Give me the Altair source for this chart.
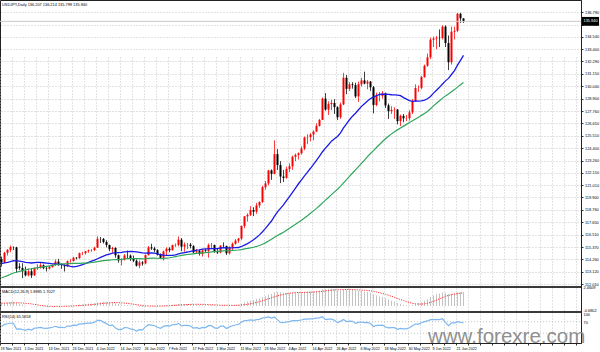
import json
import altair as alt
import pandas as pd

# ---------------- data ----------------
# closes before the first visible bar (used only to seed the moving averages)
pre_close = [110.00, 109.70, 109.36, 109.71, 109.93, 109.40, 109.22, 109.78, 110.30, 110.73,
             110.98, 111.49, 111.98, 111.29,
             111.05, 110.93, 111.44, 111.40, 111.65, 112.22, 113.27, 113.60, 113.28, 113.68,
             114.22, 114.33, 114.39, 114.35, 114.01, 113.46, 113.70, 114.15, 113.83, 113.60, 113.95,
             114.01, 113.96, 114.06, 113.77, 113.41, 112.89, 112.89, 113.91, 114.06, 113.90,
             114.15, 114.83, 114.11, 114.27]

opens = [114.28, 114.00, 114.85, 115.12, 115.37, 115.35, 113.60, 113.47, 113.17, 112.80,
         113.17, 112.80, 113.45, 113.55, 113.72, 113.45, 113.42, 113.56, 113.73, 114.05,
         113.71, 113.68, 113.62, 114.10, 114.10, 114.41, 114.36, 114.82, 114.83, 115.00,
         115.07, 115.10, 115.32, 116.12, 116.11, 115.84, 115.56, 115.19, 115.30, 114.63,
         114.17, 114.20, 114.61, 114.60, 114.30, 114.13, 113.68, 113.98, 113.88, 114.64,
         115.35, 115.25, 115.09, 114.69, 114.40, 114.98, 115.23, 115.09, 115.55, 115.57,
         116.05, 115.42, 115.60, 115.60, 115.46, 114.90, 115.01, 114.75, 115.07, 115.01,
         115.55, 115.56, 114.99, 114.88, 115.50, 115.48, 114.81, 115.31, 115.68, 115.96,
         116.15, 117.29, 118.17, 118.31, 118.75, 118.60, 119.17, 119.48, 120.83, 121.17,
         122.36, 122.04, 123.84, 122.85, 121.80, 121.68, 122.50, 122.73, 123.60, 123.77,
         123.92, 124.34, 125.36, 125.39, 125.63, 125.90, 126.42, 126.96, 128.90, 127.90,
         128.40, 128.50, 128.12, 127.20, 128.37, 130.80, 129.79, 130.20, 130.13, 129.10,
         130.21, 130.56, 130.27, 130.45, 129.93, 128.32, 129.16, 129.16, 129.37, 128.28,
         127.75, 127.87, 127.90, 126.85, 127.33, 127.10, 127.12, 127.64, 128.70, 129.87,
         129.88, 130.86, 131.89, 132.66, 134.27, 134.38, 134.44, 134.41, 135.46, 133.96,
         132.21, 135.00, 135.08, 136.63, 136.207]

highs = [114.50, 114.95, 115.18, 115.52, 115.44, 115.40, 113.90, 113.90, 113.60, 113.40,
         113.45, 113.52, 113.80, 113.94, 113.80, 113.60, 113.68, 113.79, 114.25, 114.30,
         113.87, 113.80, 114.15, 114.28, 114.48, 114.45, 114.87, 114.95, 115.00, 115.15,
         115.19, 115.40, 116.35, 116.29, 116.20, 116.00, 115.60, 115.40, 115.35, 114.70,
         114.35, 114.74, 115.06, 114.70, 114.60, 114.25, 114.15, 114.10, 114.70, 115.47,
         115.68, 115.40, 115.18, 114.80, 115.05, 115.35, 115.35, 115.60, 115.70, 116.34,
         116.20, 115.80, 115.75, 115.75, 115.55, 115.20, 115.15, 115.20, 115.20, 115.70,
         115.75, 115.60, 115.20, 115.55, 115.80, 115.50, 115.45, 115.80, 116.10, 116.20,
         117.35, 118.20, 118.45, 119.10, 119.00, 119.40, 119.55, 120.95, 121.40, 122.40,
         122.45, 125.10, 124.30, 123.20, 122.40, 122.70, 123.00, 123.70, 123.90, 124.00,
         124.55, 125.45, 125.65, 125.75, 126.00, 126.65, 127.05, 129.00, 129.40, 128.65,
         128.80, 128.85, 128.20, 128.55, 131.25, 131.05, 130.40, 130.40, 130.35, 130.45,
         130.80, 131.35, 130.60, 130.50, 130.05, 129.45, 129.50, 129.60, 129.45, 128.45,
         128.20, 128.10, 127.95, 127.45, 127.50, 127.40, 127.85, 128.85, 130.20, 130.10,
         130.98, 132.00, 133.00, 134.45, 134.55, 134.60, 135.20, 135.58, 135.58, 134.65,
         135.45, 135.45, 136.70, 136.71, 136.214]

lows = [113.60, 113.90, 114.60, 114.90, 115.10, 113.05, 113.30, 112.55, 112.70, 112.70,
        112.55, 112.75, 113.30, 113.40, 113.35, 113.15, 113.33, 113.50, 113.65, 113.70,
        113.40, 113.15, 113.57, 113.95, 114.05, 114.25, 114.30, 114.64, 114.70, 114.85,
        114.95, 115.02, 115.30, 115.75, 115.70, 115.35, 115.00, 114.85, 114.40, 113.95,
        113.70, 114.15, 114.30, 114.10, 114.00, 113.60, 113.45, 113.68, 113.80, 114.60,
        115.12, 114.90, 114.60, 114.35, 114.15, 114.65, 114.90, 115.05, 115.40, 115.45,
        115.00, 114.95, 115.20, 115.25, 114.80, 114.75, 114.60, 114.50, 114.90, 114.40,
        115.30, 114.85, 114.75, 114.80, 115.35, 114.65, 114.70, 115.05, 115.60, 115.75,
        116.00, 117.10, 117.70, 118.20, 118.20, 118.40, 118.95, 119.40, 120.60, 121.00,
        121.50, 122.00, 122.40, 121.20, 121.30, 121.60, 122.20, 122.40, 123.20, 123.35,
        123.80, 124.20, 124.75, 125.00, 125.10, 125.85, 126.35, 126.95, 127.80, 127.40,
        127.85, 127.50, 126.95, 127.05, 128.30, 129.30, 129.60, 129.80, 128.95, 128.60,
        130.00, 130.20, 129.75, 129.60, 127.55, 128.20, 128.65, 128.90, 128.05, 127.05,
        127.50, 127.05, 126.55, 126.40, 126.75, 126.85, 126.90, 127.50, 128.60, 129.50,
        129.75, 130.80, 131.80, 132.50, 133.60, 133.40, 133.60, 134.30, 133.60, 131.50,
        132.00, 134.30, 134.95, 135.80, 135.799]

closes = [113.98, 114.85, 115.13, 115.37, 115.36, 113.38, 113.48, 113.16, 112.80, 113.17,
          112.79, 113.46, 113.54, 113.72, 113.45, 113.41, 113.56, 113.73, 114.05, 113.71,
          113.70, 113.62, 114.10, 114.10, 114.41, 114.36, 114.82, 114.83, 115.00, 115.07,
          115.08, 115.32, 116.12, 116.11, 115.83, 115.56, 115.19, 115.30, 114.63, 114.17,
          114.20, 114.61, 114.60, 114.30, 114.13, 113.68, 113.98, 113.88, 114.64, 115.35,
          115.25, 115.09, 114.69, 114.40, 114.98, 115.23, 115.09, 115.55, 115.57, 116.05,
          115.42, 115.60, 115.60, 115.46, 114.90, 115.01, 114.75, 115.07, 115.01, 115.55,
          115.56, 114.99, 114.88, 115.50, 115.48, 114.81, 115.31, 115.68, 115.96, 116.15,
          117.29, 118.17, 118.31, 118.75, 118.60, 119.17, 119.48, 120.83, 121.17, 122.36,
          122.04, 123.84, 122.85, 121.80, 121.68, 122.50, 122.73, 123.60, 123.77, 123.92,
          124.34, 125.36, 125.39, 125.63, 125.90, 126.42, 126.96, 128.90, 127.90, 128.40,
          128.50, 128.12, 127.20, 128.37, 130.80, 129.79, 130.20, 130.13, 129.10, 130.21,
          130.56, 130.27, 130.45, 129.93, 128.32, 129.16, 129.16, 129.37, 128.28, 127.75,
          127.87, 127.90, 126.85, 127.33, 127.10, 127.12, 127.64, 128.70, 129.87, 129.88,
          130.86, 131.89, 132.66, 134.27, 134.38, 134.44, 134.41, 135.46, 133.96, 132.21,
          135.00, 135.08, 136.63, 136.21, 135.94]

date_labels = ["19 Nov 2021", "1 Dec 2021", "13 Dec 2021", "23 Dec 2021", "4 Jan 2022",
               "14 Jan 2022", "26 Jan 2022", "7 Feb 2022", "17 Feb 2022", "1 Mar 2022",
               "11 Mar 2022", "23 Mar 2022", "4 Apr 2022", "14 Apr 2022", "26 Apr 2022",
               "6 May 2022", "18 May 2022", "30 May 2022", "9 Jun 2022", "21 Jun 2022"]

price_ticks = [112.010, 113.120, 114.260, 115.370, 116.510, 117.650, 118.760, 119.900,
               121.010, 122.150, 123.260, 124.400, 125.510, 126.650, 127.760, 128.900,
               130.040, 131.150, 132.290, 133.400, 134.540, 135.650, 136.790, 137.900]

header_text = "USDJPY,Daily  136.207 136.214 135.799 135.940"
macd_text = "MACD(12,26,9) 1.8985 1.7027"
rsi_text = "RSI(14) 65.5658"
macd_scale_labels = [2.4609, -0.6802]
rsi_scale_labels = [100, 70]
rsi_levels = [70, 30]
watermark = "www.forexre.com"

# ---------------- indicators derived from the closes ----------------
full = pd.Series(pre_close + closes)
n_pre = len(pre_close)
ma20 = full.rolling(20).mean()
ma50 = full.rolling(50).mean()
ema12 = full.ewm(span=12, adjust=False).mean()
ema26 = full.ewm(span=26, adjust=False).mean()
macd = ema12 - ema26
signal = macd.rolling(9).mean()
delta = full.diff()
gain = delta.clip(lower=0).ewm(alpha=1 / 14, adjust=False).mean()
loss = (-delta.clip(upper=0)).ewm(alpha=1 / 14, adjust=False).mean()
rsi = 100 - 100 / (1 + gain / loss)

n = len(closes)
df = pd.DataFrame({
    "i": list(range(n)),
    "o": opens, "h": highs, "l": lows, "c": closes,
    "ma20": ma20.iloc[n_pre:].values,
    "ma50": ma50.iloc[n_pre:].values,
    "macd": macd.iloc[n_pre:].values,
    "signal": signal.iloc[n_pre:].values,
    "rsi": rsi.iloc[n_pre:].values,
})

FONT = "Liberation Sans"
FS = 3.9
W, H = 581, 343
BAR_PX = 3.0

# ---------------- scales / axes ----------------
x_scale = alt.Scale(domain=[-0.5, W / BAR_PX - 0.5], nice=False, zero=False)
x_vals = [4 * k - 0.5 for k in range(0, 49)]
lbl_js = json.dumps(date_labels)
x_axis = alt.Axis(
    values=x_vals,
    labelExpr=f"((datum.value+0.5)%8==0 && (datum.value+0.5)/8 < {len(date_labels)}) ? {lbl_js}[(datum.value+0.5)/8] : ''",
    labelAlign="left", labelBaseline="top", labelFontSize=3.7, labelFont=FONT, labelColor="#000",
    labelPadding=1.5, labelOverlap=False, labelFlush=False, labelBound=False,
    tickSize=2, tickColor="#333", domainColor="#222", domainWidth=1,
    grid=True, gridColor="#b8b8b8", gridDash=[1, 2], gridWidth=0.8, title=None,
)
X = alt.X("i:Q", scale=x_scale, axis=x_axis)

p_top = 136.79 + 12 / (272 / 24.78)
p_bot = 112.01 - 2 / (272 / 24.78)
price_scale = alt.Scale(domain=[p_bot, p_top], range=[286, 0], nice=False, zero=False)
price_axis = alt.Axis(
    orient="right", values=price_ticks, format=".3f", labelFontSize=FS, labelFont=FONT,
    labelColor="#000", labelPadding=1.5, labelOverlap=False, tickSize=2, tickColor="#333",
    domainColor="#222", grid=True, gridColor="#b8b8b8", gridDash=[1, 2], gridWidth=0.8, title=None,
)


def PY(field):
    return alt.Y(field, type="quantitative", scale=price_scale, axis=price_axis)


macd_scale = alt.Scale(domain=[-0.6802, 2.4609], range=[311, 288], nice=False, zero=False, clamp=True)
rsi_scale = alt.Scale(domain=[0, 100], range=[342, 313], nice=False, zero=False, clamp=True)

base = alt.Chart(df)
candle_color = alt.condition("datum.c >= datum.o", alt.value("#ff0000"), alt.value("#000000"))

wicks = base.mark_rule(strokeWidth=1, opacity=0.75).encode(x=X, y=PY("h"), y2="l:Q", color=candle_color)
bodies = base.mark_rule(strokeWidth=2, strokeCap="butt").encode(x=X, y=PY("o"), y2="c:Q", color=candle_color)
line20 = base.mark_line(color="#1a1ae6", strokeWidth=1.3).encode(x=X, y=PY("ma20"))
line50 = base.mark_line(color="#2ea65a", strokeWidth=1.2).encode(x=X, y=PY("ma50"))

bid_df = pd.DataFrame({"p": [closes[-1]], "txt": [f"{closes[-1]:.3f}"]})
bid_base = alt.Chart(bid_df)
bid_line = bid_base.mark_rule(color="#c8c8c8", strokeWidth=1).encode(
    x=alt.value(0), x2=alt.value(W), y=PY("p"))
bid_box = bid_base.transform_calculate(top="datum.p + 0.40", bot="datum.p - 0.40").mark_rect(
    color="#000").encode(x=alt.value(582), x2=alt.value(599), y=PY("top"), y2="bot:Q")
bid_txt = bid_base.mark_text(align="left", baseline="middle", color="#fff", fontSize=FS, font=FONT).encode(
    x=alt.value(583.5), y=PY("p"), text="txt:N")

main = alt.layer(wicks, bodies, line20, line50, bid_line, bid_box, bid_txt)

# MACD panel
MY = alt.Y("macd:Q", scale=macd_scale, axis=None)
hist = base.mark_rule(color="#c4c4c4", strokeWidth=1).encode(x=X, y=MY, y2=alt.datum(0))
sig = base.mark_line(color="#ff2a2a", strokeWidth=1, strokeDash=[1.2, 1.2]).encode(
    x=X, y=alt.Y("signal:Q", scale=macd_scale, axis=None))
macd_lab_df = pd.DataFrame({"v": macd_scale_labels, "t": [f"{v:.4f}" for v in macd_scale_labels],
                            "d": [2.0, -3.0]})
macd_labs = alt.Chart(macd_lab_df).transform_calculate(
    vv="datum.v + datum.d * 0.14").mark_text(align="left", baseline="middle", fontSize=FS, font=FONT,
                                             color="#000").encode(
    x=alt.value(583.5), y=alt.Y("vv:Q", scale=alt.Scale(domain=[-0.6802, 2.4609], range=[311, 288],
                                                         nice=False, zero=False), axis=None), text="t:N")
macd_panel = alt.layer(hist, sig, macd_labs)

# RSI panel
rsi_line = base.mark_line(color="#7db8ee", strokeWidth=1.2).encode(
    x=X, y=alt.Y("rsi:Q", scale=rsi_scale, axis=None))
lvl_df = pd.DataFrame({"v": rsi_levels})
rsi_lvls = alt.Chart(lvl_df).mark_rule(color="#b8b8b8", strokeDash=[1, 2], strokeWidth=0.8).encode(
    x=alt.value(0), x2=alt.value(W), y=alt.Y("v:Q", scale=rsi_scale, axis=None))
rsi_lab_df = pd.DataFrame({"v": rsi_scale_labels, "t": [str(v) for v in rsi_scale_labels]})
rsi_labs = alt.Chart(rsi_lab_df).mark_text(
    align="left", baseline="middle", fontSize=FS, font=FONT, color="#000", dy=1.5).encode(
    x=alt.value(583.5), y=alt.Y("v:Q", scale=rsi_scale, axis=None), text="t:N")
rsi_panel = alt.layer(rsi_lvls, rsi_line, rsi_labs)

# decorations
one = alt.Chart(pd.DataFrame({"a": [0]}))
sep1 = one.mark_rule(color="#3a3a3a", strokeWidth=2).encode(x=alt.value(0), x2=alt.value(W), y=alt.value(287))
sep2 = one.mark_rule(color="#3a3a3a", strokeWidth=2).encode(x=alt.value(0), x2=alt.value(W), y=alt.value(312))
hdr = one.mark_text(text=header_text, align="left", baseline="middle", fontSize=FS, font=FONT,
                    color="#000").encode(x=alt.value(2), y=alt.value(5))
mtxt = one.mark_text(text=macd_text, align="left", baseline="middle", fontSize=FS, font=FONT,
                     color="#000").encode(x=alt.value(2), y=alt.value(291.5))
rtxt = one.mark_text(text=rsi_text, align="left", baseline="middle", fontSize=FS, font=FONT,
                     color="#000").encode(x=alt.value(2), y=alt.value(316.5))
wm = one.mark_text(text=watermark, align="left", baseline="alphabetic", fontSize=20.5, font=FONT,
                   color="#858585", opacity=0.9).encode(x=alt.value(428), y=alt.value(343))

chart = alt.layer(main, macd_panel, rsi_panel, sep1, sep2, hdr, mtxt, rtxt, wm).resolve_scale(
    y="independent"
).properties(
    width=W, height=H,
    autosize=alt.AutoSizeParams(type="none"),
    padding={"left": 0, "top": 0, "right": 19, "bottom": 9},
    background="#ffffff",
).configure_view(stroke="#222", strokeWidth=1)

chart.save("out.html", embed_options={"renderer": "svg", "actions": False})
